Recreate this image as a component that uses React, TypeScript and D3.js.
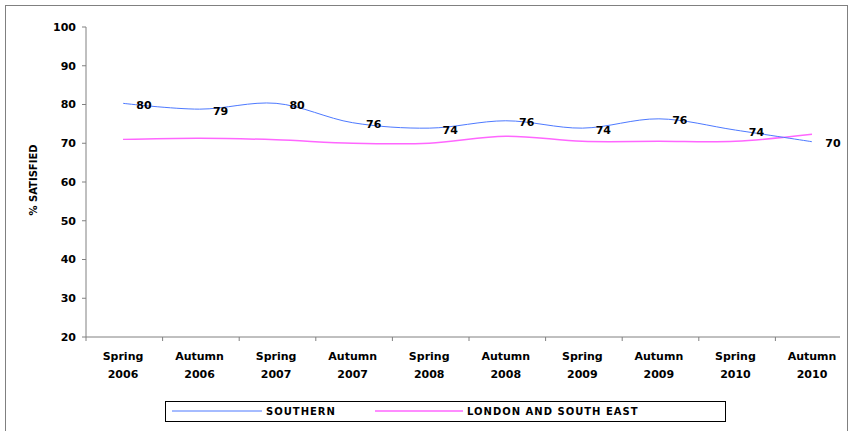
import * as d3 from "d3";

const categories = ["Spring 2006", "Autumn 2006", "Spring 2007", "Autumn 2007", "Spring 2008", "Autumn 2008", "Spring 2009", "Autumn 2009", "Spring 2010", "Autumn 2010"];
const southern = [80.3, 78.8, 80.3, 75.3, 73.9, 75.8, 73.9, 76.3, 73.4, 70.4];
const southernLabels = [80, 79, 80, 76, 74, 76, 74, 76, 74, 70];
const london = [71, 71.3, 70.9, 70, 70, 71.8, 70.5, 70.5, 70.5, 72.3];
const yTicks = [20, 30, 40, 50, 60, 70, 80, 90, 100];

const W = 853, H = 431;
const FONT = "DejaVu Sans, Verdana, sans-serif";

export default function App() {
  const x = d3.scalePoint<string>().domain(categories).range([123, 812]);
  const y = d3.scaleLinear().domain([20, 100]).range([337, 27]);
  const line = d3.line<number>().x((_, i) => x(categories[i])!).y((d) => y(d)).curve(d3.curveCatmullRom);

  return (
    <svg width={W} height={H} style={{ position: "absolute", left: 0, top: 0 }} fontFamily={FONT}>
      <rect x={0} y={0} width={W} height={H} fill="#fff" />
      <rect x={5.5} y={5.5} width={842} height={430} fill="none" stroke="#808080" />
      <line x1={86} x2={86} y1={27} y2={337} stroke="#808080" />
      <line x1={86} x2={840} y1={337} y2={337} stroke="#808080" />
      {yTicks.map((t) => (
        <g key={t}>
          <line x1={82} x2={86} y1={y(t)} y2={y(t)} stroke="#808080" />
          <text x={76} y={y(t)} dy="0.35em" textAnchor="end" fontSize={11} fontWeight="bold">{t}</text>
        </g>
      ))}
      {categories.map((c, i) => {
        const [a, b] = c.split(" ");
        const bx = 86 + i * 76.6;
        return (
          <g key={c}>
            <line x1={bx} x2={bx} y1={337} y2={341} stroke="#808080" />
            <text x={x(c)} y={360} textAnchor="middle" fontSize={11} fontWeight="bold">{a}</text>
            <text x={x(c)} y={378} textAnchor="middle" fontSize={11} fontWeight="bold">{b}</text>
          </g>
        );
      })}
      <text transform="translate(37,180) rotate(-90)" textAnchor="middle" fontSize={10} fontWeight="bold">% SATISFIED</text>
      <path d={line(london)!} fill="none" stroke="#ff66ff" strokeWidth={1.5} />
      <path d={line(southern)!} fill="none" stroke="#4d79ff" strokeWidth={1} />
      {southern.map((v, i) => (
        <text key={i} x={x(categories[i])! + (i === 9 ? 21 : 21)} y={y(v)} dy="0.5em" textAnchor="middle" fontSize={11} fontWeight="bold">{southernLabels[i]}</text>
      ))}
      <rect x={165.5} y={401.5} width={560} height={20} fill="none" stroke="#000" />
      <line x1={172} x2={262} y1={411} y2={411} stroke="#4d79ff" />
      <text x={266} y={411} dy="0.35em" fontSize={10} fontWeight="bold" letterSpacing={1}>SOUTHERN</text>
      <line x1={375} x2={463} y1={411} y2={411} stroke="#ff66ff" strokeWidth={1.5} />
      <text x={467} y={411} dy="0.35em" fontSize={10} fontWeight="bold" letterSpacing={1}>LONDON AND SOUTH EAST</text>
    </svg>
  );
}
